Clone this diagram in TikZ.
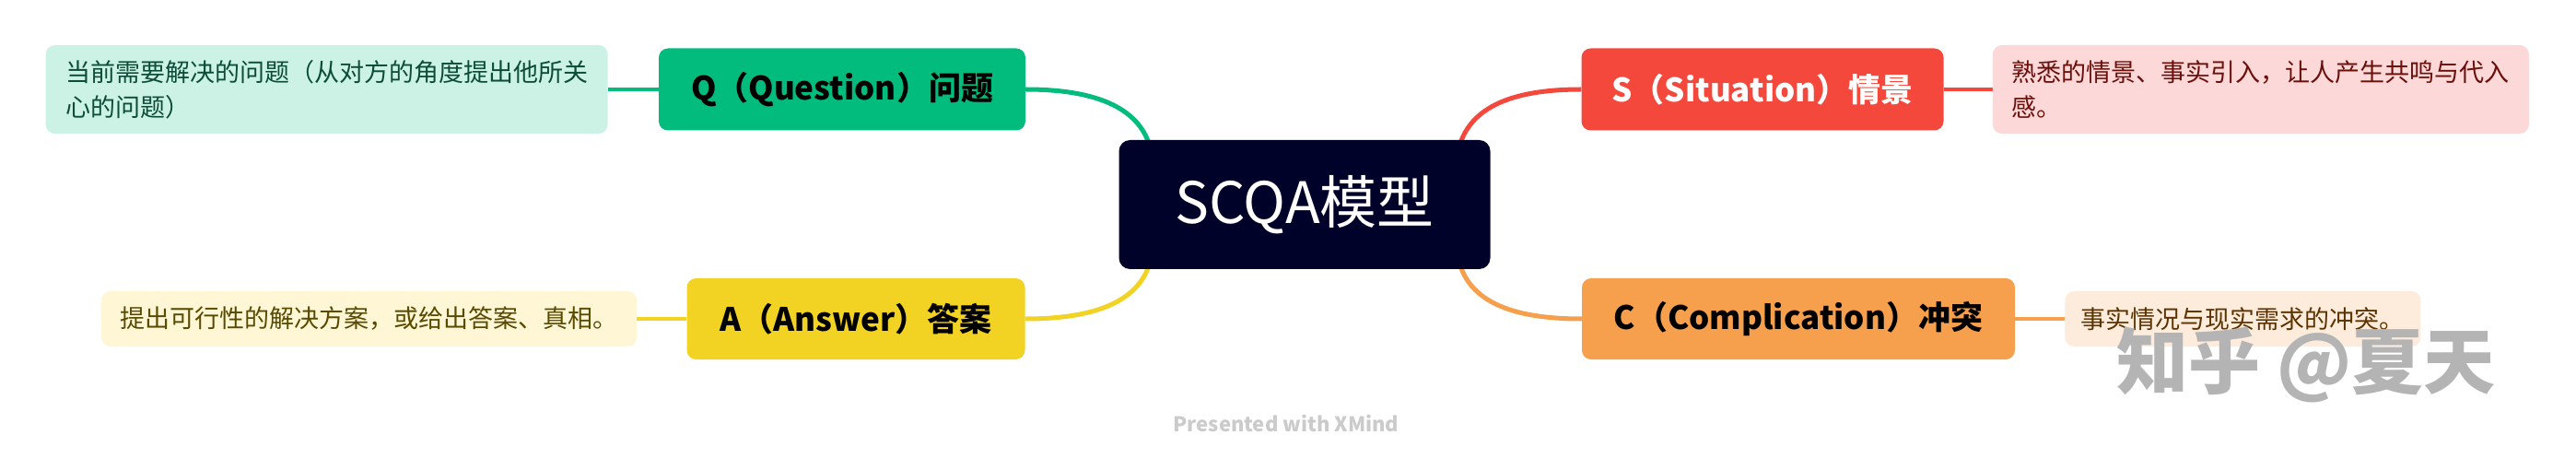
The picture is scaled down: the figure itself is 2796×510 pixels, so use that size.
\documentclass[tikz,border=0pt]{standalone}
\usepackage{fontspec}
\setmainfont{Noto Sans CJK SC}
\usetikzlibrary{positioning,backgrounds}

\definecolor{centralblue}{HTML}{000229}
\definecolor{qgreen}{HTML}{02BC7D}
\definecolor{qnote}{HTML}{CCF2E5}
\definecolor{qtext}{HTML}{0B4D35}
\definecolor{sred}{HTML}{F5483C}
\definecolor{snote}{HTML}{FDD8D8}
\definecolor{stext}{HTML}{6B0F0A}
\definecolor{ayellow}{HTML}{F2D324}
\definecolor{anote}{HTML}{FEF6D5}
\definecolor{atext}{HTML}{5A4A00}
\definecolor{corange}{HTML}{F6A04D}
\definecolor{cnote}{HTML}{FDEBDC}
\definecolor{ctext}{HTML}{5C3300}
\definecolor{markgray}{HTML}{B4B4B4}
\definecolor{creditgray}{HTML}{CBCBCB}

\tikzset{
  topic/.style={fill=#1, rounded corners=10pt, inner sep=0pt,
    minimum height=89pt, font=\fontsize{35}{40}\selectfont\bfseries},
  note/.style={fill=#1, rounded corners=10pt, inner xsep=11pt,
    inner ysep=0pt, align=left, font=\fontsize{27}{38}\selectfont},
  link/.style={draw=#1, line width=5pt},
  tie/.style={draw=#1, line width=4pt},
}

\begin{document}
\begin{tikzpicture}[x=1pt,y=-1pt,node distance=54pt]
  \useasboundingbox (0,0) rectangle (2796,510);

  % centre
  \node[fill=centralblue, rounded corners=12pt, minimum width=403pt,
    minimum height=140pt, text=white, font=\fontsize{62}{66}\selectfont]
    (central) at (1416,222) {SCQA模型};

  % branches
  \node[topic=qgreen, minimum width=398pt] (q) at (914,97) {Q（Question）问题};
  \node[topic=sred, minimum width=393pt, text=white] (s) at (1913,97) {S（Situation）情景};
  \node[topic=ayellow, minimum width=367pt, minimum height=88pt] (a) at (929,346) {A（Answer）答案};
  \node[topic=corange, minimum width=470pt, minimum height=88pt] (c) at (1952,346) {C（Complication）冲突};

  % notes
  \node[note=qnote, text=qtext, minimum width=610pt, minimum height=96pt, left=55pt of q]
    (qnotebox) {当前需要解决的问题（从对方的角度提出他所关\\心的问题）};
  \node[note=snote, text=stext, minimum width=582pt, minimum height=96pt, right=53pt of s]
    (snotebox) {熟悉的情景、事实引入，让人产生共鸣与代入\\感。};
  \node[note=anote, text=atext, minimum width=581pt, minimum height=60pt, left=54pt of a]
    (anotebox) {提出可行性的解决方案，或给出答案、真相。};
  \node[note=cnote, text=ctext, minimum width=386pt, minimum height=60pt, right=54pt of c]
    (cnotebox) {事实情况与现实需求的冲突。};

  \begin{scope}[on background layer]
    \fill[white] (0,0) rectangle (2796,510);
    \draw[link=qgreen] (q.east) .. controls +(80,0) and +(-10,-45) .. ([shift={(35,12)}]central.north west);
    \draw[link=sred] (s.west) .. controls +(-80,0) and +(10,-45) .. ([shift={(-35,12)}]central.north east);
    \draw[link=ayellow] (a.east) .. controls +(80,0) and +(-10,45) .. ([shift={(35,-12)}]central.south west);
    \draw[link=corange] (c.west) .. controls +(-80,0) and +(10,45) .. ([shift={(-35,-12)}]central.south east);
    \draw[tie=qgreen] (qnotebox.east) -- (q.west);
    \draw[tie=sred] (s.east) -- (snotebox.west);
    \draw[tie=ayellow] (anotebox.east) -- (a.west);
    \draw[tie=corange] (c.east) -- (cnotebox.west);
  \end{scope}

  \node[text=creditgray, font=\fontsize{22}{24}\selectfont\bfseries] (credit) at (1396,460) {Presented with XMind};
  \node[text=markgray, font=\fontsize{78}{80}\selectfont\bfseries] (zhihu) at (2503,396) {知乎 @夏天};
\end{tikzpicture}
\end{document}
